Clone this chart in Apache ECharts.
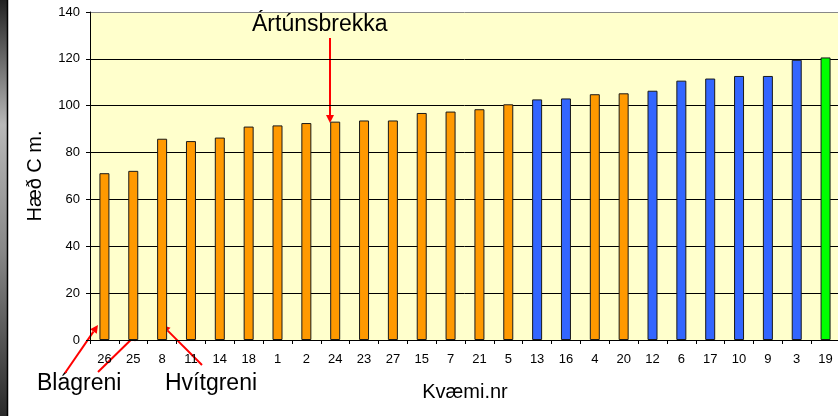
<!DOCTYPE html>
<html>
<head>
<meta charset="utf-8">
<script src="https://cdn.jsdelivr.net/npm/echarts@6/dist/echarts.min.js"></script>
<style>
  html, body { margin: 0; padding: 0; background: #fff; }
  #main { width: 838px; height: 416px; }
</style>
</head>
<body>
<div id="main"></div>
<script>
// kvæmi (provenance) numbers, in the order shown
var categories = ['26', '25', '8', '11', '14', '18', '1', '2', '24', '23', '27', '15', '7',
  '21', '5', '13', '16', '4', '20', '12', '6', '17', '10', '9', '3', '19'];
// height in cm
var heights = [71.2, 72.2, 85.9, 84.9, 86.4, 91.1, 91.6, 92.6, 93.2, 93.7, 93.7, 96.9, 97.5,
  98.5, 100.6, 102.7, 103.1, 104.9, 105.3, 106.4, 110.7, 111.6, 112.7, 112.7, 119.6, 120.6];
// colour group of each bar
var groups = ['o', 'o', 'o', 'o', 'o', 'o', 'o', 'o', 'o', 'o', 'o', 'o', 'o',
  'o', 'o', 'b', 'b', 'o', 'o', 'b', 'b', 'b', 'b', 'b', 'b', 'g'];
var yMin = 0, yMax = 140, yStep = 20;

var groupColor = { o: '#FF9900', b: '#3366FF', g: '#00FF00' };
var font = 'Arial, "Liberation Sans", sans-serif';

function arrow(x1, y1, x2, y2) {
  var dx = x2 - x1, dy = y2 - y1;
  var len = Math.sqrt(dx * dx + dy * dy);
  var ux = dx / len, uy = dy / len;
  var hl = 8, hw = 4;
  var bx = x2 - ux * hl, by = y2 - uy * hl;
  return [
    { type: 'line', shape: { x1: x1, y1: y1, x2: bx, y2: by }, style: { stroke: '#FF0000', lineWidth: 2 } },
    { type: 'polygon', shape: { points: [[x2, y2], [bx - uy * hw, by + ux * hw], [bx + uy * hw, by - ux * hw]] },
      style: { fill: '#FF0000' } }
  ];
}

var myChart = echarts.init(document.getElementById('main'));

var graphics = [
  {
    type: 'rect', shape: { x: 0, y: 0, width: 7, height: 416 }, silent: true,
    style: {
      fill: new echarts.graphic.LinearGradient(0, 0, 0, 1, [
        { offset: 0, color: '#222' },
        { offset: 0.3, color: '#b8b8b8' },
        { offset: 0.6, color: '#888' },
        { offset: 1, color: '#2a2a2a' }
      ])
    }
  },
  { type: 'line', shape: { x1: 7.5, y1: 0, x2: 7.5, y2: 416 }, style: { stroke: '#000', lineWidth: 1.5 } },
  { type: 'text', x: 252, y: 25, style: { text: 'Ártúnsbrekka', font: '23px ' + font, fill: '#000', verticalAlign: 'middle' } },
  { type: 'text', x: 37, y: 384, style: { text: 'Blágreni', font: '23px ' + font, fill: '#000', verticalAlign: 'middle' } },
  { type: 'text', x: 165, y: 384, style: { text: 'Hvítgreni', font: '23px ' + font, fill: '#000', verticalAlign: 'middle' } }
];
graphics = graphics
  .concat(arrow(65, 373, 98, 325))
  .concat(arrow(98, 372, 138, 333))
  .concat(arrow(202, 365, 162, 325))
  .concat(arrow(330, 38, 330, 123));

var option = {
  animation: false,
  backgroundColor: '#fff',
  grid: {
    left: 90, top: 12, right: -2, bottom: 76,
    show: true, backgroundColor: '#FFFFCC', borderWidth: 0,
    outerBoundsMode: 'none'
  },
  xAxis: {
    type: 'category',
    data: categories,
    name: 'Kvæmi.nr',
    nameLocation: 'middle',
    nameGap: 42,
    nameTextStyle: { fontSize: 20, color: '#000', fontFamily: font },
    axisLine: { lineStyle: { color: '#000', width: 1 } },
    axisTick: { show: true, length: 4, interval: 0, lineStyle: { color: '#000' } },
    axisLabel: { interval: 0, fontSize: 13, color: '#000', fontFamily: font, margin: 13 },
    splitLine: { show: false }
  },
  yAxis: {
    type: 'value',
    min: yMin, max: yMax, interval: yStep,
    name: 'Hæð C m.',
    nameLocation: 'middle',
    nameRotate: 90,
    nameGap: 45,
    nameTextStyle: { fontSize: 20, color: '#000', fontFamily: font },
    axisLine: { show: true, lineStyle: { color: '#000', width: 1 } },
    axisTick: { show: true, length: 4, lineStyle: { color: '#000' } },
    axisLabel: { fontSize: 13, color: '#000', fontFamily: font, margin: 10 },
    splitLine: {
      show: true,
      lineStyle: { color: ['#000', '#000', '#000', '#000', '#000', '#000', '#000', '#888'], width: 1 }
    }
  },
  series: [{
    type: 'bar',
    barWidth: 10,
    data: heights.map(function (v, i) {
      return { value: v, itemStyle: { color: groupColor[groups[i]] } };
    }),
    itemStyle: { borderColor: '#1a1a1a', borderWidth: 1 }
  }],
  graphic: graphics
};

myChart.setOption(option);
</script>
</body>
</html>
